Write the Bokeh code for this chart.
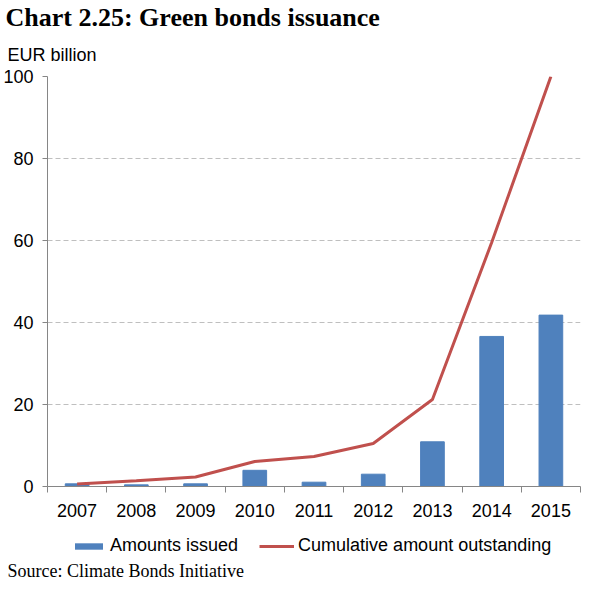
from bokeh.plotting import figure
from bokeh.layouts import column
from bokeh.models import FixedTicker, Legend, LegendItem, Range1d, Title
from bokeh.embed import file_html
from bokeh.resources import INLINE

years = [2007, 2008, 2009, 2010, 2011, 2012, 2013, 2014, 2015]
year_labels = ["2007", "2008", "2009", "2010", "2011", "2012", "2013", "2014", "2015"]
amounts_issued = [0.65, 0.4, 0.65, 3.95, 1.05, 3.0, 10.9, 36.6, 41.8]
cumulative_outstanding = [0.6, 1.4, 2.3, 6.1, 7.3, 10.5, 21.2, 59.5, 100.0]
y_ticks = [0, 20, 40, 60, 80, 100]

BAR_COLOR = "#4F81BD"
LINE_COLOR = "#C0504D"
FONT = "Liberation Sans"
SERIF = "Liberation Serif"
AX = "#868686"

W = 583
H1 = 521                    # main chart height
H2 = 59                     # legend + source strip height
FL, FR, FT, FB = 38, 580, 73, 486  # frame edges in canvas px

p = figure(width=W, height=H1, output_backend="svg", toolbar_location=None, title=None,
           x_range=Range1d(2006.5, 2015.5), y_range=Range1d(0, 100),
           min_border_left=FL, min_border_right=W - FR,
           min_border_top=FT, min_border_bottom=H1 - FB)
p.outline_line_color = None
p.background_fill_color = "white"
p.border_fill_color = "white"

bars = p.vbar(x=years, top=amounts_issued, width=0.4, color=BAR_COLOR)
line = p.line(years, cumulative_outstanding, line_color=LINE_COLOR, line_width=3)

xa = p.xaxis[0]
xa.ticker = FixedTicker(ticks=years, minor_ticks=[y - 0.5 for y in years] + [years[-1] + 0.5])
xa.major_label_overrides = {y: l for y, l in zip(years, year_labels)}
xa.major_tick_out = 0
xa.major_tick_in = 0
xa.minor_tick_out = 6
xa.minor_tick_in = 0
xa.minor_tick_line_color = AX
xa.axis_line_color = AX
xa.major_label_text_font = FONT
xa.major_label_text_font_size = "18px"
xa.major_label_text_color = "black"
xa.major_label_standoff = 11

ya = p.yaxis[0]
ya.ticker = FixedTicker(ticks=y_ticks, minor_ticks=[])
ya.major_tick_out = 5
ya.major_tick_in = 0
ya.major_tick_line_color = AX
ya.axis_line_color = AX
ya.major_label_text_font = FONT
ya.major_label_text_font_size = "18px"
ya.major_label_text_color = "black"
ya.major_label_standoff = 9

p.xgrid.visible = False
p.ygrid.grid_line_color = "#BFBFBF"
p.ygrid.grid_line_dash = "5 3"
p.ygrid.grid_line_width = 1

# titles above (first added is nearest the frame)
p.add_layout(Title(text="EUR billion", align="left", offset=-FL - 2, standoff=23,
                   text_font=FONT, text_font_size="18px", text_font_style="normal",
                   text_color="black"), "above")
p.add_layout(Title(text="Chart 2.25: Green bonds issuance", align="left", offset=-FL - 4, standoff=0,
                   text_font=SERIF, text_font_size="26px", text_font_style="bold",
                   text_color="black"), "above")

# strip with legend and source note (same horizontal borders as the chart)
q = figure(width=W, height=H2, output_backend="svg", toolbar_location=None, title=None,
           x_range=Range1d(2006.5, 2015.5), y_range=Range1d(200, 300),
           x_axis_type=None, y_axis_type=None,
           min_border_left=FL, min_border_right=W - FR, min_border_top=0, min_border_bottom=0)
q.outline_line_color = None
q.xgrid.visible = False
q.ygrid.visible = False
q.background_fill_color = "white"
q.border_fill_color = "white"
# same series, outside this strip's view (zero-width bars): they only feed the legend swatches
leg_bar = q.vbar(x=years, top=amounts_issued, width=0, fill_color=BAR_COLOR, line_alpha=0)
leg_line = q.line(years, cumulative_outstanding, line_color=LINE_COLOR, line_width=3)

legend = Legend(items=[LegendItem(label="Amounts issued", renderers=[leg_bar]),
                       LegendItem(label="Cumulative amount outstanding", renderers=[leg_line])],
                location=(24, 2), orientation="horizontal",
                glyph_width=35, glyph_height=8, label_height=18,
                label_standoff=4, spacing=21, padding=0, margin=0,
                border_line_color=None, background_fill_alpha=0,
                label_text_font=FONT, label_text_font_size="18px",
                label_text_color="black")
q.add_layout(legend, "center")

q.add_layout(Title(text="Source: Climate Bonds Initiative", align="left", offset=-FL - 2, standoff=0,
                   text_font=SERIF, text_font_size="18px", text_font_style="normal",
                   text_color="black"), "below")

open("out.html", "w").write(file_html(column(p, q, spacing=0), INLINE))
